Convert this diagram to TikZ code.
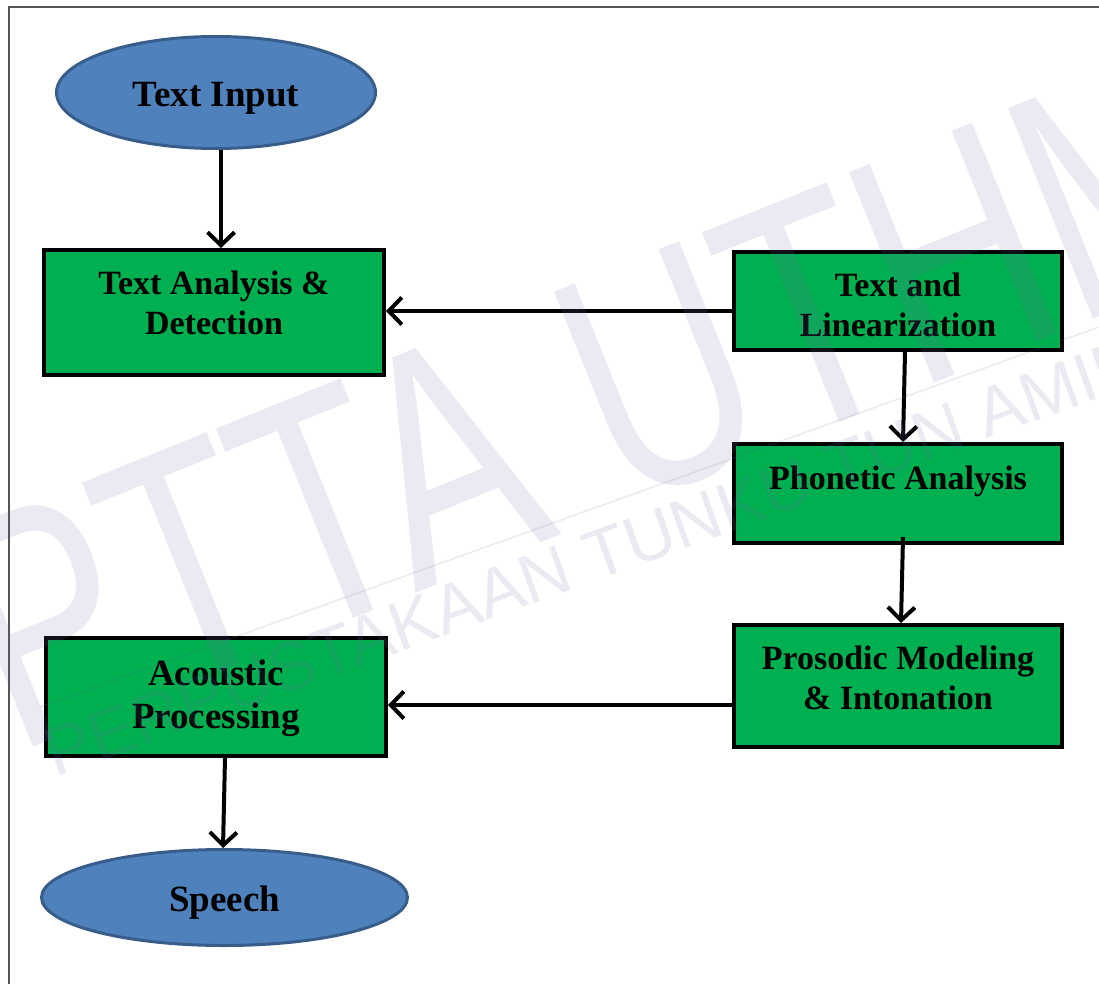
\documentclass[tikz,border=0pt]{standalone}
\usepackage{fontspec}
\setmainfont{Liberation Serif}
\newfontfamily\wmfont{Liberation Sans}
\usetikzlibrary{arrows.meta,calc,shapes.geometric}
\definecolor{boxgreen}{HTML}{00B050}
\definecolor{ellblue}{HTML}{4F81BD}
\definecolor{elledge}{HTML}{385D8A}
\definecolor{wmcol}{HTML}{7070A8}
\definecolor{framecol}{HTML}{555555}
\begin{document}
\begin{tikzpicture}[x=1pt,y=-1pt,
  stepbox/.style={draw=black, line width=4pt, fill=boxgreen, rectangle, inner sep=0pt},
  term/.style={ellipse, draw=elledge, line width=3pt, fill=ellblue, inner sep=0pt},
  lbl/.style={font=\fontsize{34}{40}\selectfont\bfseries, align=center, text=black},
  biglbl/.style={font=\fontsize{37}{43}\selectfont\bfseries, align=center, text=black},
  arr/.style={line width=4pt, -{Straight Barb[length=13pt,width=27pt]}},
  wm/.style={text=wmcol, opacity=0.15, inner sep=0pt},
]
\useasboundingbox (0,0) rectangle (1099,984);
% frame
\coordinate (fbl) at (9,984);
\coordinate (ftl) at (9,7);
\coordinate (ftr) at (1099,7);
\draw[framecol, line width=1.5pt] (fbl) -- (ftl) -- (ftr);

% terminals
\node[term, minimum width=319pt, minimum height=112pt] (ti) at (216,92.5) {};
\node[biglbl] (ti-t) at ($(ti)+(0,6)$) {Text Input};
\node[term, minimum width=366pt, minimum height=96pt] (sp) at (224.5,897.5) {};
\node[biglbl] (sp-t) at ($(sp)+(0,5)$) {Speech};

% boxes
\node[stepbox, minimum width=340pt, minimum height=125pt] (ta) at (214,312.5) {};
\node[lbl] (ta-t) at ($(ta)+(0,-10)$) {Text Analysis \&\\Detection};

\node[stepbox, minimum width=328pt, minimum height=98pt] (tl) at (898,301) {};
\node[lbl] (tl-t) at ($(tl)+(0,4)$) {Text and\\Linearization};

\node[stepbox, minimum width=328pt, minimum height=99pt] (pa) at (898,493.5) {};
\node[lbl] (pa-t) at ($(pa)+(0,-12)$) {Phonetic Analysis};

\node[stepbox, minimum width=328pt, minimum height=122pt] (pm) at (898,686) {};
\node[lbl] (pm-t) at ($(pm)+(0,-8.5)$) {Prosodic Modeling\\\& Intonation};

\node[stepbox, minimum width=340pt, minimum height=118pt] (ap) at (216,697) {};
\node[biglbl] (ap-t) at ($(ap)+(0,1)$) {Acoustic\\Processing};

% connectors
\draw[arr] ($(ti.south)+(5,0)$) -- ($(ta.north)+(7,0)$);
\draw[arr] ($(tl.west)+(0,10)$) -- ($(ta.east)+(0,-1.5)$);
\draw[arr] ($(tl.south)+(7,0)$) -- ($(pa.north)+(5,0)$);
\draw[arr] ($(pa.south)+(5,-8)$) -- ($(pm.north)+(3,0)$);
\draw[arr] ($(pm.west)+(0,19)$) -- ($(ap.east)+(0,8)$);
\draw[arr] ($(ap.south)+(9,0)$) -- ($(sp.north)+(-1.5,0)$);

% watermark
\node[wm, anchor=base west, rotate=22] (wm1) at (15,755)
  {\wmfont\fontsize{330}{330}\selectfont\scalebox{0.72}[1]{PTTA UTHM}};
\node[wm, anchor=base west, rotate=20] (wm2) at (55,778)
  {\wmfont\fontsize{69}{69}\selectfont PERPUSTAKAAN TUNKU TUN AMINAH};
\coordinate (wl1) at (40,707);
\coordinate (wl2) at (1099,327);
\draw[wmcol, opacity=0.15, line width=1.5pt] (wl1) -- (wl2);
\end{tikzpicture}
\end{document}
